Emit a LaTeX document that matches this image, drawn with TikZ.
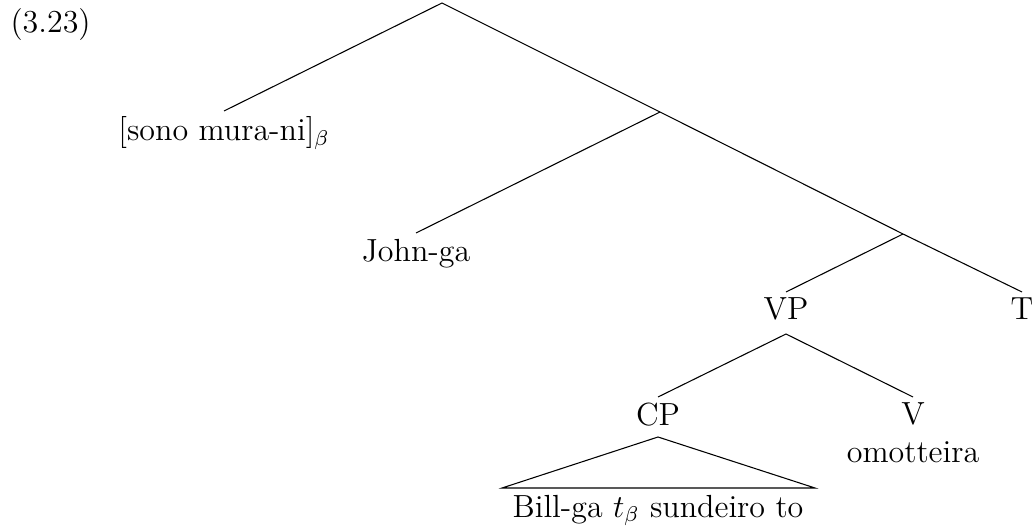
\documentclass[tikz,border=0pt]{standalone}
\begin{document}
\begin{tikzpicture}[x=0.375pt,y=-0.375pt,font=\large,
    lbl/.style={inner sep=2pt,anchor=north}]
  \useasboundingbox (0,0) rectangle (1035,529);
  \node[anchor=base west,inner sep=0pt] (ex) at (10,33) {(3.23)};
  % branch points
  \coordinate (top) at (442,3);
  \coordinate (tp) at (660,112);
  \coordinate (tb) at (903,234);
  \coordinate (vb) at (786,334);
  % labels
  \node[lbl] (sono) at (224,111) {[sono mura-ni]$_\beta$};
  \node[lbl] (john) at (416,233) {John-ga};
  \node[lbl] (vp) at (786,292) {VP};
  \node[lbl] (t) at (1022,292) {T};
  \node[lbl] (cp) at (658,397) {CP};
  \node[lbl,align=center] (v) at (913,397) {V\\omotteira};
  \node[lbl] (bill) at (658,489) {Bill-ga $t_\beta$ sundeiro to};
  % roof over CP
  \coordinate (roof) at (658,437);
  \coordinate (rl) at (502,488);
  \coordinate (rr) at (815,488);
  \draw (sono.north) -- (top) -- (tp) -- (tb) -- (t.north);
  \draw (john.north) -- (tp);
  \draw (vp.north) -- (tb);
  \draw (cp.north) -- (vb) -- (v.north);
  \draw (rl) -- (roof) -- (rr) -- cycle;
\end{tikzpicture}
\end{document}
